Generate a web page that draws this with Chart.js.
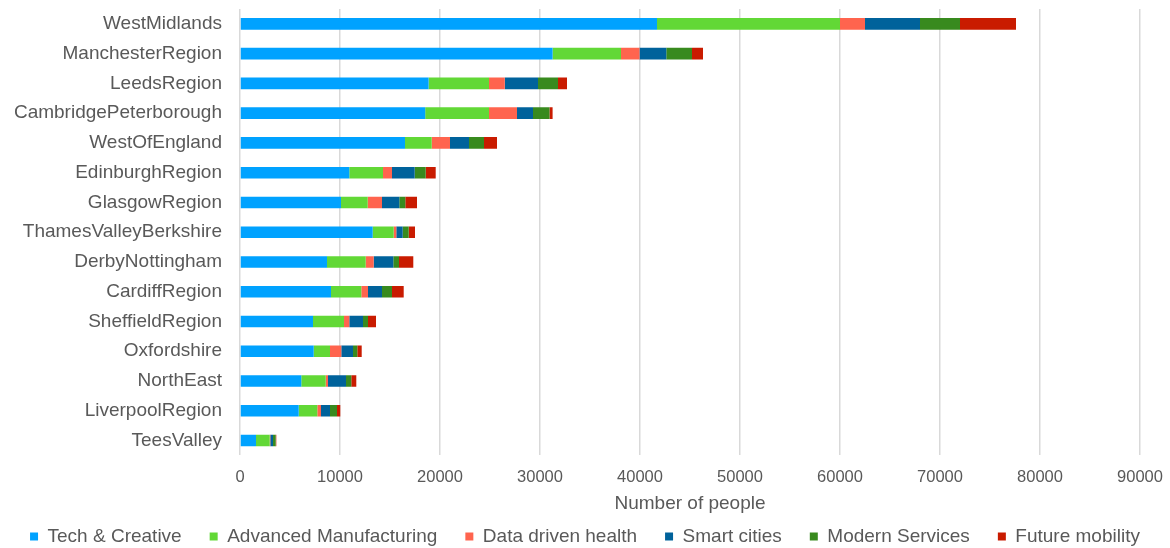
<html>
<head>
<script src="https://cdn.jsdelivr.net/npm/chart.js@4.4.1/dist/chart.umd.min.js"></script>
<style>
  body { margin: 0; background: #ffffff; }
  #wrap { width: 1170px; height: 548px; }
</style>
</head>
<body>
<div id="wrap"><canvas id="canvas" width="1170" height="548"></canvas></div>
<script>
var regions = ["WestMidlands", "ManchesterRegion", "LeedsRegion", "CambridgePeterborough", "WestOfEngland",
  "EdinburghRegion", "GlasgowRegion", "ThamesValleyBerkshire", "DerbyNottingham", "CardiffRegion",
  "SheffieldRegion", "Oxfordshire", "NorthEast", "LiverpoolRegion", "TeesValley"];

var techCreative = [41700, 31260, 18860, 18520, 16500, 10930, 10100, 13270, 8700, 9100, 7300, 7370, 6130, 5870, 1600];
var advancedManufacturing = [18300, 6840, 6040, 6380, 2670, 3370, 2670, 2100, 3870, 3030, 3100, 1630, 2440, 1860, 1370];
var dataDrivenHealth = [2500, 1850, 1580, 2800, 1830, 900, 1430, 260, 800, 670, 530, 1130, 230, 370, 60];
var smartCities = [5500, 2680, 3320, 1600, 1900, 2270, 1730, 640, 1960, 1400, 1370, 1170, 1800, 900, 270];
var modernServices = [4000, 2570, 2000, 1650, 1500, 1100, 600, 600, 570, 1000, 500, 430, 530, 700, 270];
var futureMobility = [5600, 1100, 900, 310, 1300, 1000, 1170, 630, 1430, 1170, 800, 440, 500, 330, 60];

var xMax = 90000;
var xStep = 10000;

var font = "'Liberation Sans', Arial, sans-serif";
var textGrey = "#595959";

function series(label, data, color) {
  return {
    label: label,
    data: data,
    backgroundColor: color,
    borderWidth: 0,
    barPercentage: 0.39,
    categoryPercentage: 1
  };
}

var chart = new Chart(document.getElementById("canvas"), {
  type: "bar",
  data: {
    labels: regions,
    datasets: [
      series("Tech & Creative", techCreative, "#00a2ff"),
      series("Advanced Manufacturing", advancedManufacturing, "#62d836"),
      series("Data driven health", dataDrivenHealth, "#ff644e"),
      series("Smart cities", smartCities, "#00629b"),
      series("Modern Services", modernServices, "#388a1e"),
      series("Future mobility", futureMobility, "#c91b00")
    ]
  },
  options: {
    indexAxis: "y",
    responsive: false,
    animation: false,
    layout: { padding: { top: 9, right: 0, left: 0, bottom: -8 } },
    scales: {
      x: {
        stacked: true,
        min: 0,
        max: xMax,
        ticks: {
          stepSize: xStep,
          color: textGrey,
          font: { family: font, size: 16.5 },
          padding: 12,
          callback: function (v) { return String(v); }
        },
        grid: { color: "#d9d9d9", lineWidth: 1.5, drawTicks: false },
        border: { display: false },
        title: {
          display: true,
          text: "Number of people",
          color: textGrey,
          font: { family: font, size: 19 },
          padding: { top: -7, bottom: -16 }
        },
        // leave room on the right for the last tick label
        afterFit: function (scale) { scale.paddingRight = 30; }
      },
      y: {
        stacked: true,
        ticks: {
          color: textGrey,
          font: { family: font, size: 19 },
          padding: 18
        },
        grid: { display: false, drawTicks: false },
        border: { display: false },
        afterFit: function (scale) {
          scale.width = 240;
          scale.paddingTop = 0;
          scale.paddingBottom = 0;
        }
      }
    },
    plugins: {
      legend: {
        position: "bottom",
        labels: {
          boxWidth: 8,
          boxHeight: 8,
          color: textGrey,
          font: { family: font, size: 19 },
          padding: 28
        }
      },
      tooltip: { enabled: false }
    }
  }
});
</script>
</body>
</html>
